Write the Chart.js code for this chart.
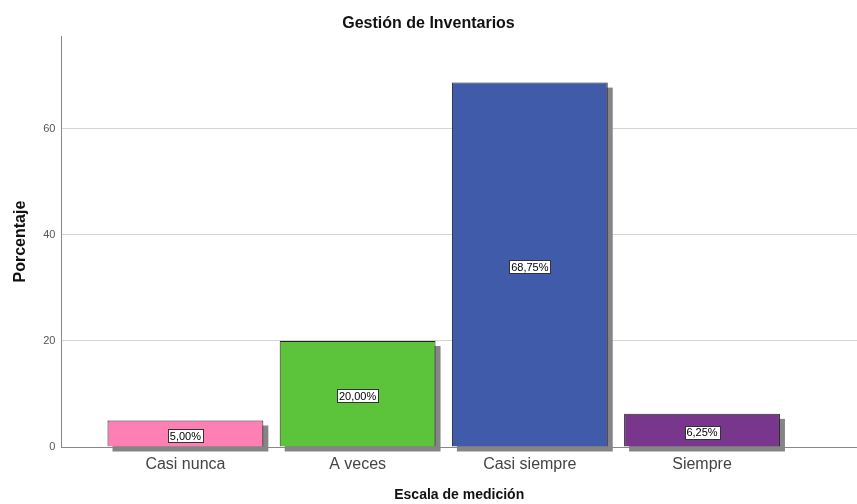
<!DOCTYPE html>
<html>
<head>
<meta charset="utf-8">
<script src="https://cdn.jsdelivr.net/npm/chart.js@4/dist/chart.umd.min.js"></script>
<style>
  html, body { margin: 0; padding: 0; background: #fff; }
  #wrap { width: 857px; height: 504px; }
</style>
</head>
<body>
<div id="wrap"><canvas id="chart-canvas"></canvas></div>
<script>
const categories = ["Casi nunca", "A veces", "Casi siempre", "Siempre"];
const percentages = [5.00, 20.00, 68.75, 6.25];
const barColors = ["#fd7fb3", "#5cc43a", "#3f5ba9", "#78378c"];
const yTicks = [0, 20, 40, 60];

const font = "'Liberation Sans', Arial, sans-serif";

// grey drop shadow behind every bar, offset down/right
const barShadow = {
  id: "barShadow",
  beforeDatasetsDraw(chart) {
    const ctx = chart.ctx;
    ctx.save();
    ctx.fillStyle = "#858585";
    chart.getDatasetMeta(0).data.forEach((bar) => {
      ctx.fillRect(bar.x - bar.width / 2 + 5, bar.y + 5, bar.width, bar.base - bar.y);
    });
    ctx.restore();
  }
};

// boxed value label in the middle of each bar
const boxLabels = {
  id: "boxLabels",
  afterDatasetsDraw(chart) {
    const ctx = chart.ctx;
    ctx.save();
    ctx.font = "11px " + font;
    ctx.textAlign = "center";
    ctx.textBaseline = "middle";
    chart.getDatasetMeta(0).data.forEach((bar, i) => {
      const txt = percentages[i].toFixed(2).replace(".", ",") + "%";
      const w = Math.round(ctx.measureText(txt).width + 4);
      const h = 13;
      const cy = (bar.y + bar.base) / 2 + 2;
      const bx = Math.round(bar.x - w / 2) + 0.5;
      const by = Math.round(cy - h / 2) + 0.5;
      ctx.fillStyle = "#fff";
      ctx.fillRect(bx, by, w, h);
      ctx.strokeStyle = "#333";
      ctx.lineWidth = 1;
      ctx.strokeRect(bx, by, w, h);
      ctx.fillStyle = "#000";
      ctx.fillText(txt, bar.x, cy + 1);
    });
    ctx.restore();
  }
};

new Chart(document.getElementById("chart-canvas"), {
  type: "bar",
  data: {
    datasets: [{
      data: percentages.map((v, i) => ({ x: i, y: v })),
      backgroundColor: barColors,
      borderColor: "#222",
      borderWidth: 1,
      barPercentage: 0.905,
      categoryPercentage: 1
    }]
  },
  options: {
    responsive: true,
    maintainAspectRatio: false,
    animation: false,
    layout: { padding: 0 },
    plugins: {
      legend: { display: false },
      tooltip: { enabled: false },
      title: {
        display: true,
        text: "Gestión de Inventarios",
        color: "#111",
        font: { family: font, size: 16, weight: "bold" },
        padding: { top: 14, bottom: 3 }
      }
    },
    scales: {
      x: {
        type: "linear",
        offset: false,
        min: -0.72,
        max: 3.9,
        afterBuildTicks: (scale) => { scale.ticks = categories.map((_, i) => ({ value: i })); },
        ticks: {
          autoSkip: false,
          maxRotation: 0,
          padding: 8,
          color: "#444",
          font: { family: font, size: 16 },
          callback: (v) => categories[v] ?? ""
        },
        grid: { display: false, drawTicks: false },
        border: { color: "#888", width: 1 },
        title: {
          display: true,
          text: "Escala de medición",
          color: "#111",
          font: { family: font, size: 14, weight: "bold" },
          padding: { top: 5, bottom: 0 }
        }
      },
      y: {
        min: 0,
        max: 77.5,
        afterBuildTicks: (scale) => { scale.ticks = yTicks.map((v) => ({ value: v })); },
        ticks: {
          padding: 6,
          color: "#555",
          font: { family: font, size: 11 }
        },
        grid: { color: "#d4d4d4", drawTicks: false },
        border: { color: "#888", width: 1 },
        title: {
          display: true,
          text: "Porcentaje",
          color: "#111",
          font: { family: font, size: 16, weight: "bold" },
          padding: { top: 11, bottom: 7 }
        }
      }
    }
  },
  plugins: [barShadow, boxLabels]
});
</script>
</body>
</html>
